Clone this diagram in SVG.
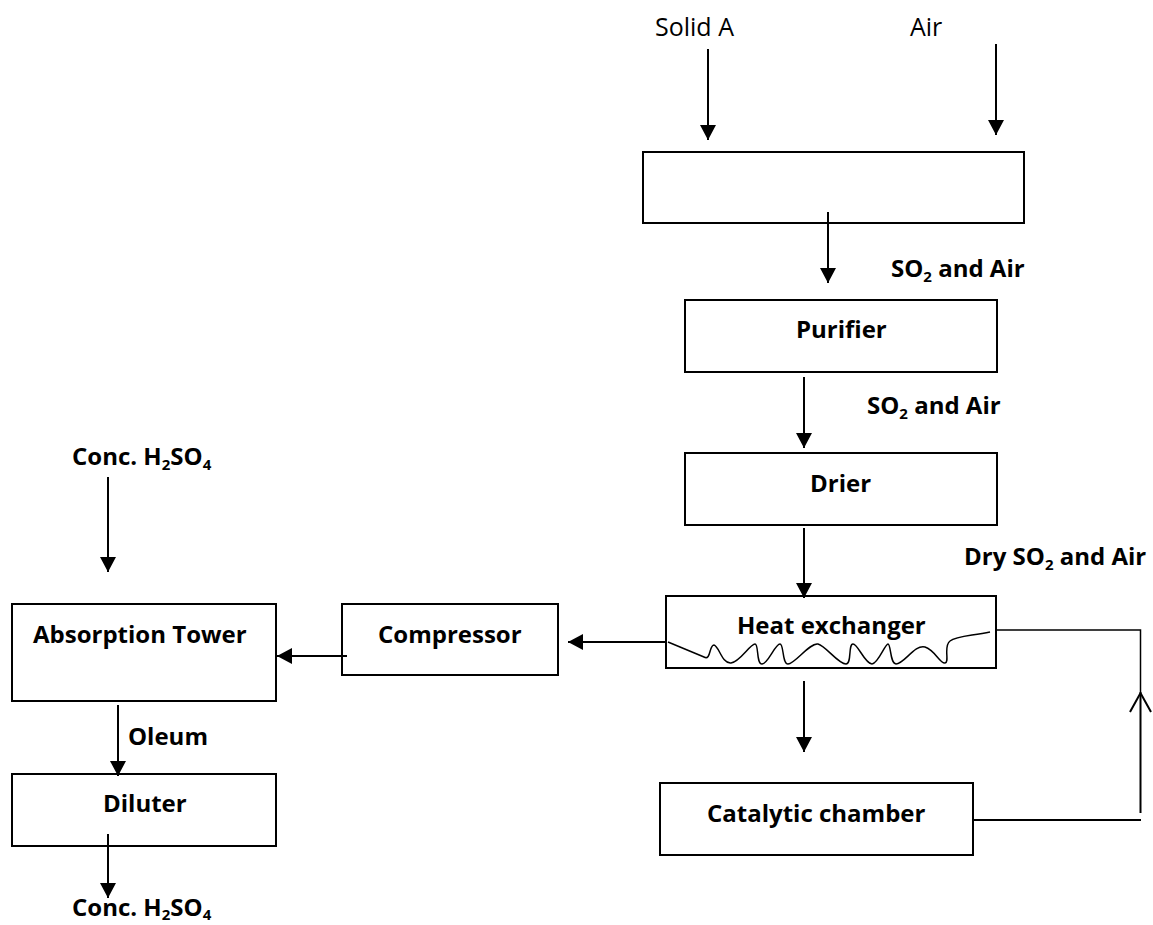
<svg xmlns="http://www.w3.org/2000/svg" width="1153" height="925" viewBox="0 0 1153 925">
<style>
.box{fill:#fff;stroke:#000;stroke-width:2}
.ln{fill:none;stroke:#000;stroke-width:2}
.thin{fill:none;stroke:#000;stroke-width:1.5}
.t{font-family:"Open Sans","Liberation Sans",sans-serif;font-size:24px;font-weight:bold;fill:#000}
.r{font-family:"Open Sans","Liberation Sans",sans-serif;font-size:25px;fill:#000}
.sub{font-size:15px}
</style>
<defs>
<marker id="ah" viewBox="0 0 15 16" refX="15" refY="8" markerWidth="15" markerHeight="16" markerUnits="userSpaceOnUse" orient="auto">
<path d="M0,0 L15,8 L0,16 Z" fill="#000"/>
</marker>
</defs>
<rect width="1153" height="925" fill="#fff"/>
<g id="labels">
<text class="r" x="655" y="36">Solid A</text>
<text class="r" x="910" y="36">Air</text>
<text class="t" x="891" y="277">SO<tspan class="sub" dy="5">2</tspan><tspan dy="-5"> and Air</tspan></text>
<text class="t" x="867" y="414">SO<tspan class="sub" dy="5">2</tspan><tspan dy="-5"> and Air</tspan></text>
<text class="t" x="964" y="565">Dry SO<tspan class="sub" dy="5">2</tspan><tspan dy="-5"> and Air</tspan></text>
<text class="t" x="72" y="465">Conc. H<tspan class="sub" dy="5">2</tspan><tspan dy="-5">SO</tspan><tspan class="sub" dy="5">4</tspan></text>
<text class="t" x="128" y="745">Oleum</text>
<text class="t" x="72" y="916">Conc. H<tspan class="sub" dy="4">2</tspan><tspan dy="-4">SO</tspan><tspan class="sub" dy="4">4</tspan></text>
</g>
<g id="furnace"><rect class="box" x="643" y="152" width="381" height="71"/></g>
<g id="purifier"><rect class="box" x="685" y="300" width="312" height="72"/><text class="t" x="796" y="338">Purifier</text></g>
<g id="drier"><rect class="box" x="685" y="453" width="312" height="72"/><text class="t" x="810" y="492">Drier</text></g>
<g id="heat-exchanger"><rect class="box" x="666" y="596" width="330" height="72"/><text class="t" x="737" y="634">Heat exchanger</text>
<path class="thin" d="M668,642 L704,657 C711,661 709,645 714,645 C719,646 722,664 731,663 C740,662 750,644 755,644 C759,644 756,664 762,664 C768,664 775,644 780,644 C784,644 782,664 788,664 C795,664 810,642 818,644 C826,646 838,664 846,664 C852,664 848,644 853,644 C858,644 865,664 872,664 C878,664 885,644 888,644 C891,644 890,664 896,664 C904,664 915,644 925,647 C935,650 940,664 945,663 C950,662 943,646 950,641 C956,636 970,636 990,632"/></g>
<g id="catalytic-chamber"><rect class="box" x="660" y="783" width="313" height="72"/><text class="t" x="707" y="822">Catalytic chamber</text></g>
<g id="compressor"><rect class="box" x="342" y="604" width="216" height="71"/><text class="t" x="378" y="643">Compressor</text></g>
<g id="absorption-tower"><rect class="box" x="12" y="604" width="264" height="97"/><text class="t" x="33" y="643">Absorption Tower</text></g>
<g id="diluter"><rect class="box" x="12" y="774" width="264" height="72"/><text class="t" x="103" y="812">Diluter</text></g>
<g id="connectors">
<line class="ln" x1="708" y1="49" x2="708" y2="140" marker-end="url(#ah)"/>
<line class="ln" x1="996" y1="44" x2="996" y2="135" marker-end="url(#ah)"/>
<line class="ln" x1="828" y1="212" x2="828" y2="283" marker-end="url(#ah)"/>
<line class="ln" x1="804" y1="377" x2="804" y2="448" marker-end="url(#ah)"/>
<line class="ln" x1="804" y1="528" x2="804" y2="598" marker-end="url(#ah)"/>
<line class="ln" x1="804" y1="681" x2="804" y2="752" marker-end="url(#ah)"/>
<line class="ln" x1="666" y1="642" x2="568" y2="642" marker-end="url(#ah)"/>
<line class="ln" x1="347" y1="656" x2="277" y2="656" marker-end="url(#ah)"/>
<line class="ln" x1="108" y1="477" x2="108" y2="572" marker-end="url(#ah)"/>
<line class="ln" x1="118" y1="705" x2="118" y2="776" marker-end="url(#ah)"/>
<line class="ln" x1="108" y1="834" x2="108" y2="898" marker-end="url(#ah)"/>
<polyline class="thin" points="996,630 1140.5,630 1140.5,692"/>
<line class="ln" x1="1140.5" y1="692" x2="1140.5" y2="813"/>
<polyline class="ln" points="1130,712 1140.5,693 1151,712"/>
<line class="ln" x1="973" y1="820" x2="1141" y2="820"/>
</g>
</svg>
